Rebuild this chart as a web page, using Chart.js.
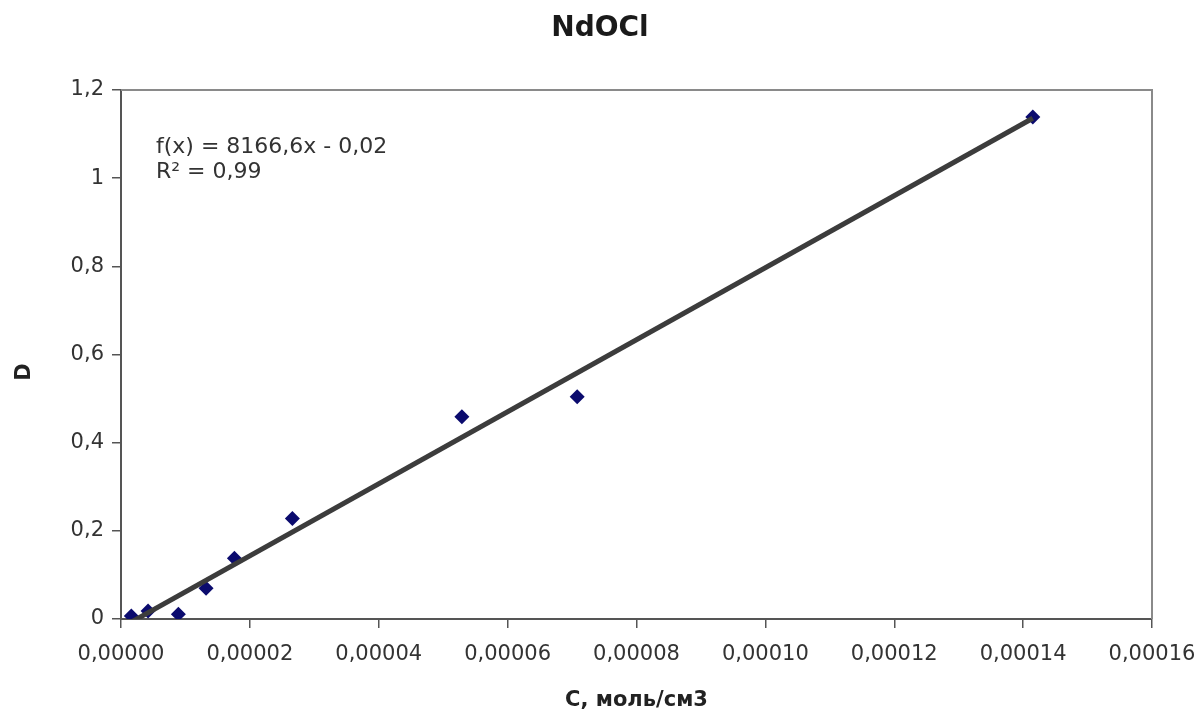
<!DOCTYPE html>
<html>
<head>
<meta charset="utf-8">
<script src="https://cdn.jsdelivr.net/npm/chart.js@4"></script>
<style>
  html,body{margin:0;padding:0;background:#fff;}
  #wrap{width:1200px;height:717px;}
</style>
</head>
<body>
<div id="wrap"><canvas id="c" width="1200" height="717"></canvas></div>
<script>
// measured points, C (mol/cm3) vs D
const concC = [0.0000016, 0.0000042, 0.0000089, 0.0000132, 0.0000176, 0.0000266, 0.0000529, 0.0000708, 0.0001415];
const absD  = [0.007, 0.018, 0.011, 0.070, 0.138, 0.228, 0.459, 0.504, 1.139];
// linear trend line ends as drawn
const trendC = [0.0000016, 0.0001415];
const trendD = [-0.007, 1.136];
const eqLines = ["f(x) = 8166,6x - 0,02", "R² = 0,99"];
const titleText = "NdOCl";
const xTitle = "C, моль/см3";
const yTitle = "D";

const font = "'DejaVu Sans', 'Liberation Sans', sans-serif";
const ink = "#333";

const frame = {
  id: "frame",
  afterDatasetsDraw(chart){
    const {ctx, chartArea:a} = chart;
    ctx.save();
    ctx.strokeStyle = "#8a8a8a"; ctx.lineWidth = 2;
    ctx.beginPath();
    ctx.moveTo(a.left, a.top); ctx.lineTo(a.right, a.top); ctx.lineTo(a.right, a.bottom);
    ctx.stroke();
    ctx.fillStyle = ink;
    ctx.font = "22px " + font;
    ctx.textBaseline = "alphabetic";
    ctx.fillText(eqLines[0], a.left + 35, a.top + 63);
    ctx.fillText(eqLines[1], a.left + 35, a.top + 88);
    // y axis title, sits a bit below the plot middle in the reference
    ctx.translate(25, 372);
    ctx.rotate(-Math.PI/2);
    ctx.font = "bold 21px " + font;
    ctx.fillStyle = "#222";
    ctx.textAlign = "center"; ctx.textBaseline = "middle";
    ctx.fillText(yTitle, 0, 0);
    ctx.restore();
  }
};

const comma = (s)=> s.replace(".", ",");

new Chart(document.getElementById("c"), {
  type: "scatter",
  data: {
    datasets: [
      {
        data: concC.map((c,i)=>({x:c, y:absD[i]})),
        pointStyle: "rectRot", pointRadius: 7.5, pointHoverRadius: 7.5,
        backgroundColor: "#0b0b6e", borderColor: "#0b0b6e", borderWidth: 0,
        order: 2
      },
      {
        type: "line",
        data: trendC.map((c,i)=>({x:c, y:trendD[i]})),
        borderColor: "#3c3c3c", borderWidth: 5, pointRadius: 0,
        fill: false, order: 1
      }
    ]
  },
  plugins: [frame],
  options: {
    responsive: false, animation: false,
    layout: {padding: 0},
    plugins: {
      legend: {display: false},
      tooltip: {enabled: false},
      title: {
        display: true, text: titleText, color: "#1a1a1a",
        font: {family: font, size: 28, weight: "bold", lineHeight: 1.2},
        padding: {top: 12, bottom: 44.4}
      }
    },
    scales: {
      x: {
        type: "linear", min: 0, max: 0.00016,
        afterFit(s){ s.height = 98; s.paddingLeft = 0; s.paddingRight = 48; },
        grid: {display: true, drawOnChartArea: false, drawTicks: true, tickLength: 9, color: "#555", lineWidth: 1.5},
        border: {display: true, color: "#555", width: 2},
        ticks: {
          stepSize: 0.00002, autoSkip: false, maxRotation: 0, padding: 14,
          color: ink, font: {family: font, size: 21},
          callback: v => comma(Number(v).toFixed(5))
        },
        title: {display: true, text: xTitle, color: "#222", font: {family: font, size: 21, weight: "bold"}, padding: {top: 0, bottom: 4}}
      },
      y: {
        min: 0, max: 1.2,
        afterFit(s){ s.width = 121; s.paddingTop = 0; s.paddingBottom = 0; },
        grid: {display: true, drawOnChartArea: false, drawTicks: true, tickLength: 9, color: "#555", lineWidth: 1.5},
        border: {display: true, color: "#555", width: 2},
        ticks: {
          stepSize: 0.2, padding: 8,
          color: ink, font: {family: font, size: 21},
          callback: v => comma(String(Math.round(v*10)/10))
        }
      }
    }
  }
});
</script>
</body>
</html>
